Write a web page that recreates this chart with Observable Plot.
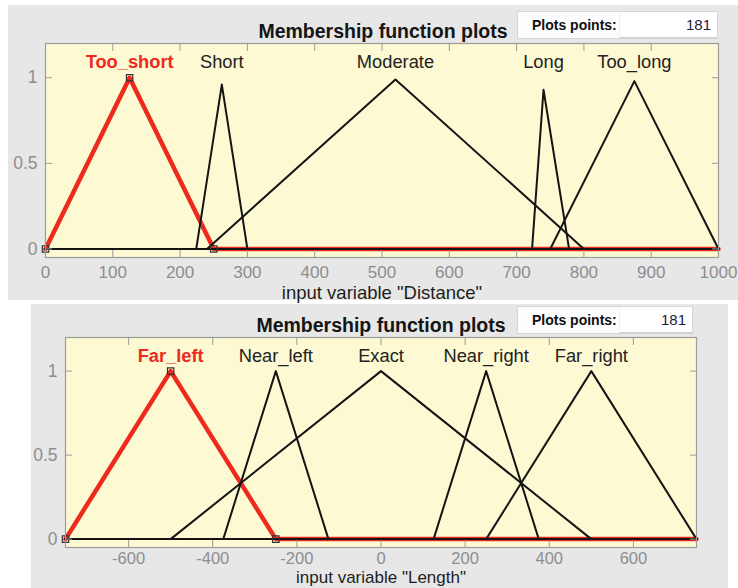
<!DOCTYPE html>
<html>
<head>
<meta charset="utf-8">
<script src="https://cdn.jsdelivr.net/npm/d3@7"></script>
<script src="https://cdn.jsdelivr.net/npm/@observablehq/plot@0.6"></script>
<style>
  html, body { margin: 0; padding: 0; background: #ffffff; }
  body { position: relative; width: 738px; height: 588px; overflow: hidden;
         font-family: "Liberation Sans", Arial, Helvetica, sans-serif; }
  .panel { position: absolute; background: #e7e7e7; }
  .title { position: absolute; font-weight: bold; font-size: 19.5px; line-height: 19px;
           color: #151515; white-space: nowrap; transform: translateX(-50%); }
  .pts { position: absolute; background: #fdfdfd; border: 1px solid #d6d6d6; box-sizing: border-box; }
  .pts .lab { position: absolute; left: 14px; top: 6px; font-weight: bold; font-size: 14px;
              line-height: 14px; color: #111; white-space: nowrap; }
  .pts .fld { position: absolute; right: 0; top: 0; bottom: 0; background: #ffffff;
              border-left: 1px solid #f0f0f0; border-bottom: 1px solid #cfcfcf; box-sizing: border-box; }
  .pts .val { position: absolute; right: 6px; top: 5px; font-size: 15px; line-height: 15px; color: #1c1c3c; }
  .chart { position: absolute; left: 0; }
</style>
</head>
<body>
<div class="panel" style="left:8px;top:5px;width:730px;height:295px;"></div>
<div class="panel" style="left:31px;top:304px;width:697px;height:284px;"></div>

<div class="title" style="left:383px;top:22px;">Membership function plots</div>
<div class="pts" style="left:517px;top:11px;width:201px;height:28px;">
  <span class="lab">Plots points:</span>
  <div class="fld" style="width:98px;"><span class="val" id="pts1"></span></div>
</div>

<div class="title" style="left:381px;top:316px;">Membership function plots</div>
<div class="pts" style="left:517px;top:306px;width:176px;height:28px;">
  <span class="lab">Plots points:</span>
  <div class="fld" style="width:73px;"><span class="val" id="pts2"></span></div>
</div>

<div class="chart" id="top" style="top:0px;"></div>
<div class="chart" id="bottom" style="top:300px;"></div>

<script>
// Input variable "Distance": triangular membership functions [left foot, peak, right foot]
const distNames  = ["Too_short", "Short", "Moderate", "Long", "Too_long"];
const distLeft   = [0, 224, 240, 723, 750];
const distPeak   = [125, 262, 520, 740, 875];
const distRight  = [250, 300, 800, 778, 1000];
const distHeight = [1, 0.96, 0.99, 0.93, 0.98];   // peak value reached on the sampled curve
const distRange  = [0, 1000];
const distTicks  = [0, 100, 200, 300, 400, 500, 600, 700, 800, 900, 1000];

// Input variable "Length"
const lenNames  = ["Far_left", "Near_left", "Exact", "Near_right", "Far_right"];
const lenLeft   = [-750, -375, -500, 125, 250];
const lenPeak   = [-500, -250, 0, 250, 500];
const lenRight  = [-250, -125, 500, 375, 750];
const lenHeight = [1, 1, 1, 1, 1];
const lenRange  = [-750, 750];
const lenTicks  = [-600, -400, -200, 0, 200, 400, 600];

const yRange = [-0.05, 1.2];
const yTicks = [0, 0.5, 1];
const labelLevel = 1.09;
const plotPoints = 181;
const selectedIndex = 0;   // highlighted membership function

const RED = "#ee2a1e";
const INK = "#141414";
const AXIS = "#9c9c9c";
const TICKTXT = "#8e8e8e";

function mfRows(names, left, peak, right, height, range) {
  const rows = [];
  names.forEach((name, i) => {
    const pts = [];
    if (left[i] > range[0]) pts.push([range[0], 0]);
    pts.push([left[i], 0], [peak[i], height[i]], [right[i], 0]);
    if (right[i] < range[1]) pts.push([range[1], 0]);
    pts.forEach(([x, y]) => rows.push({name, i, x, y}));
  });
  return rows;
}

function drawMF(cfg) {
  const rows = mfRows(cfg.names, cfg.left, cfg.peak, cfg.right, cfg.height, cfg.range);
  const sel = cfg.names[selectedIndex];
  const redRows = rows.filter(d => d.name === sel);
  const blackRows = rows.filter(d => d.name !== sel);
  const markers = [
    {x: cfg.left[selectedIndex], y: 0},
    {x: cfg.peak[selectedIndex], y: cfg.height[selectedIndex]},
    {x: cfg.right[selectedIndex], y: 0}
  ];
  const labels = cfg.names.map((name, i) => ({name, x: cfg.peak[i], sel: i === selectedIndex}));

  return Plot.plot({
    width: 738,
    height: cfg.h,
    marginLeft: cfg.ml, marginRight: cfg.mr, marginTop: cfg.mt, marginBottom: cfg.mb,
    x: {domain: cfg.range, axis: null},
    y: {domain: yRange, axis: null},
    style: {background: "transparent", fontFamily: "'Liberation Sans', Arial, Helvetica, sans-serif", overflow: "visible"},
    marks: [
      Plot.frame({fill: "#fcf9d3", stroke: null}),
      Plot.line(redRows, {x: "x", y: "y", stroke: RED, strokeWidth: 4.5, strokeLinejoin: "round"}),
      Plot.line(blackRows, {x: "x", y: "y", z: "name", stroke: INK, strokeWidth: 2, strokeLinejoin: "round"}),
      Plot.dot(markers, {x: "x", y: "y", symbol: "square", r: 3.6, stroke: "#333", fill: "none", strokeWidth: 1.2}),
      Plot.text(labels.filter(d => !d.sel), {x: "x", y: () => labelLevel, text: "name", fontSize: 18.3, fill: "#222"}),
      Plot.text(labels.filter(d => d.sel), {x: "x", y: () => labelLevel, text: "name", fontSize: 18.3, fontWeight: "bold", fill: RED}),
      Plot.axisX(cfg.ticks, {anchor: "bottom", tickSize: -7, tickPadding: cfg.tickPad, fontSize: cfg.tickSizeFont, stroke: AXIS, fill: TICKTXT, label: null, tickFormat: d => String(d)}),
      Plot.axisX(cfg.ticks, {anchor: "top", tickSize: -7, stroke: AXIS, label: null, tickFormat: () => ""}),
      Plot.axisY(yTicks, {anchor: "left", tickSize: -7, tickPadding: 15, fontSize: 17.5, stroke: AXIS, fill: TICKTXT, label: null, tickFormat: d => String(d)}),
      Plot.axisY(yTicks, {anchor: "right", tickSize: -7, stroke: AXIS, label: null, tickFormat: () => ""}),
      Plot.frame({stroke: AXIS, strokeWidth: 1.2}),
      Plot.text([cfg.label], {frameAnchor: "bottom", dy: cfg.labelGap, text: d => d, fontSize: cfg.labelSize, fill: "#1e1e1e"})
    ]
  });
}

document.getElementById("pts1").textContent = plotPoints;
document.getElementById("pts2").textContent = plotPoints;

document.getElementById("top").append(drawMF({
  names: distNames, left: distLeft, peak: distPeak, right: distRight, height: distHeight,
  range: distRange, ticks: distTicks, label: 'input variable "Distance"',
  h: 300, ml: 45, mr: 20, mt: 43, mb: 43, tickPad: 15, tickSizeFont: 17, labelGap: 41, labelSize: 18.5
}));

document.getElementById("bottom").append(drawMF({
  names: lenNames, left: lenLeft, peak: lenPeak, right: lenRight, height: lenHeight,
  range: lenRange, ticks: lenTicks, label: 'input variable "Length"',
  h: 288, ml: 65, mr: 42, mt: 37, mb: 41, tickPad: 12, tickSizeFont: 16.5, labelGap: 35.5, labelSize: 17
}));
</script>
</body>
</html>
